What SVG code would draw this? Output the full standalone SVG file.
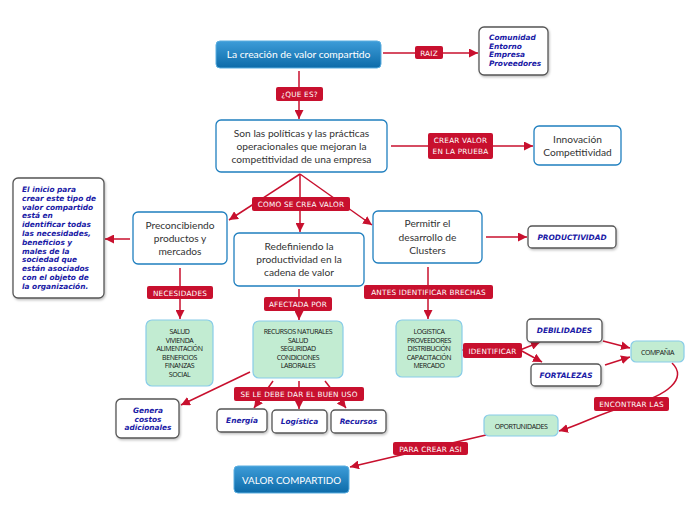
<svg xmlns="http://www.w3.org/2000/svg" width="696" height="520" viewBox="0 0 696 520">
<defs>
<linearGradient id="blueG" x1="0" y1="0" x2="0" y2="1">
<stop offset="0" stop-color="#3d9cd8"/>
<stop offset="1" stop-color="#0d6ba9"/>
</linearGradient>
<marker id="arr" markerWidth="9" markerHeight="9" refX="9" refY="4.5" orient="auto" markerUnits="userSpaceOnUse">
<path d="M0,0 L9,4.5 L0,9 z" fill="#c8102e"/>
</marker>
<filter id="sh" x="-10%" y="-10%" width="130%" height="140%">
<feDropShadow dx="1" dy="1.5" stdDeviation="1" flood-color="#000" flood-opacity="0.25"/>
</filter>
</defs>
<style>
.blue{fill:url(#blueG);stroke:#5aaee0;stroke-width:1}
.wt{fill:#fff;font-family:Lato,"Open Sans",sans-serif;font-size:10.3px;text-anchor:middle}
.box{fill:#fff;stroke:#1f7fbf;stroke-width:1.3}
.bt{fill:#333;font-family:Lato,"Open Sans",sans-serif;font-size:10.2px;text-anchor:middle}
.gbox{fill:#ffffff;stroke:#555;stroke-width:1.3}
.it{fill:#1a1aa6;font-family:"DejaVu Sans",sans-serif;font-size:7.4px;font-weight:bold;font-style:italic}
.grn{fill:#c2ecd2;stroke:#88cce8;stroke-width:1.2}
.gt{fill:#111;font-family:"Open Sans","Noto Sans",sans-serif;font-size:7px;text-anchor:middle;letter-spacing:-0.4px}
.lab{fill:#c8102e}
.lt{fill:#fff;font-family:"DejaVu Sans",sans-serif;font-size:7.3px;text-anchor:middle;letter-spacing:0.2px}
.con{fill:none;stroke:#c8102e;stroke-width:1.5}
</style>

<g id="connectors">
<path class="con" d="M383,53 L478,53" marker-end="url(#arr)"/>
<path class="con" d="M299,71 L299,119" marker-end="url(#arr)"/>
<path class="con" d="M391,146 L533,146" marker-end="url(#arr)"/>
<path class="con" d="M300,174 L229,220" marker-end="url(#arr)"/>
<path class="con" d="M300,174 L300,232" marker-end="url(#arr)"/>
<path class="con" d="M300,174 L372,225" marker-end="url(#arr)"/>
<path class="con" d="M130,239 L105,239" marker-end="url(#arr)"/>
<path class="con" d="M486,237 L527,237" marker-end="url(#arr)"/>
<path class="con" d="M180,268 L180,319" marker-end="url(#arr)"/>
<path class="con" d="M299,289 L299,320" marker-end="url(#arr)"/>
<path class="con" d="M428,267 L428,319" marker-end="url(#arr)"/>
<path class="con" d="M250,372 L181,405" marker-end="url(#arr)"/>
<path class="con" d="M273,381 L254,408" marker-end="url(#arr)"/>
<path class="con" d="M299,381 L299,409" marker-end="url(#arr)"/>
<path class="con" d="M325,381 L346,408" marker-end="url(#arr)"/>
<path class="con" d="M462,350 L520,350"/>
<path class="con" d="M520,350 L540,342" marker-end="url(#arr)"/>
<path class="con" d="M520,350 L542,362" marker-end="url(#arr)"/>
<path class="con" d="M603,341 L630,348" marker-end="url(#arr)"/>
<path class="con" d="M605,365 L630,357" marker-end="url(#arr)"/>
<path class="con" d="M672,363 C688,378 668,396 630,405 C600,413 580,425 559,431" marker-end="url(#arr)"/>
<path class="con" d="M486,435 L350,467" marker-end="url(#arr)"/>
</g>

<g id="labels">
<rect class="lab" x="415" y="46" width="28" height="13" rx="2"/>
<text class="lt" x="429" y="55.5">RAIZ</text>
<rect class="lab" x="276" y="87" width="47" height="14" rx="2"/>
<text class="lt" x="299.5" y="97">¿QUE ES?</text>
<rect class="lab" x="428" y="133" width="65" height="26" rx="2"/>
<text class="lt" x="460.5" y="143">CREAR VALOR</text>
<text class="lt" x="460.5" y="154">EN LA PRUEBA</text>
<rect class="lab" x="252" y="197" width="98" height="14" rx="2"/>
<text class="lt" x="301" y="207">COMO SE CREA VALOR</text>
<rect class="lab" x="147" y="286" width="66" height="13" rx="2"/>
<text class="lt" x="180" y="295.5">NECESIDADES</text>
<rect class="lab" x="264" y="297" width="68" height="14" rx="2"/>
<text class="lt" x="298" y="307">AFECTADA POR</text>
<rect class="lab" x="364" y="285" width="129" height="14" rx="2"/>
<text class="lt" x="428.5" y="295">ANTES IDENTIFICAR BRECHAS</text>
<rect class="lab" x="234" y="387" width="130" height="14" rx="2"/>
<text class="lt" x="299" y="397">SE LE DEBE DAR EL BUEN USO</text>
<rect class="lab" x="463" y="343" width="59" height="15" rx="2"/>
<text class="lt" x="492.5" y="353.5">IDENTIFICAR</text>
<rect class="lab" x="594" y="397" width="75" height="14" rx="2"/>
<text class="lt" x="631.5" y="407">ENCONTRAR LAS</text>
<rect class="lab" x="393" y="442" width="75" height="13" rx="2"/>
<text class="lt" x="430.5" y="451.5">PARA CREAR ASI</text>
</g>

<g id="n-main">
<rect class="blue" x="216" y="41" width="165" height="27" rx="4"/>
<text class="wt" x="298.5" y="58">La creación de valor compartido</text>
</g>

<g id="n-raiz">
<rect class="gbox" x="479" y="27" width="69" height="48" rx="5" filter="url(#sh)"/>
<text class="it" x="489" y="40">Comunidad</text>
<text class="it" x="489" y="48.5">Entorno</text>
<text class="it" x="489" y="57">Empresa</text>
<text class="it" x="489" y="65.5">Proveedores</text>
</g>

<g id="n-son">
<rect class="box" x="216" y="120" width="171" height="52" rx="5"/>
<text class="bt" x="301.5" y="137">Son las políticas y las prácticas</text>
<text class="bt" x="301.5" y="150">operacionales que mejoran la</text>
<text class="bt" x="301.5" y="163">competitividad de una empresa</text>
</g>

<g id="n-innov">
<rect class="box" x="534" y="126" width="87" height="39" rx="5"/>
<text class="bt" x="577.5" y="143">Innovación</text>
<text class="bt" x="577.5" y="156">Competitividad</text>
</g>

<g id="n-inicio">
<rect class="gbox" x="13" y="178" width="91" height="120" rx="5" filter="url(#sh)"/>
<text class="it" x="22" y="192">El inicio para</text>
<text class="it" x="22" y="200.8">crear este tipo de</text>
<text class="it" x="22" y="209.6">valor compartido</text>
<text class="it" x="22" y="218.4">está en</text>
<text class="it" x="22" y="227.2">identificar todas</text>
<text class="it" x="22" y="236">las necesidades,</text>
<text class="it" x="22" y="244.8">beneficios y</text>
<text class="it" x="22" y="253.6">males de la</text>
<text class="it" x="22" y="262.4">sociedad que</text>
<text class="it" x="22" y="271.2">están asociados</text>
<text class="it" x="22" y="280">con el objeto de</text>
<text class="it" x="22" y="288.8">la organización.</text>
</g>

<g id="n-precon">
<rect class="box" x="133" y="212" width="94" height="52" rx="5"/>
<text class="bt" x="180" y="229">Preconcibiendo</text>
<text class="bt" x="180" y="242">productos y</text>
<text class="bt" x="180" y="255">mercados</text>
</g>

<g id="n-redef">
<rect class="box" x="234" y="233" width="130" height="53" rx="5"/>
<text class="bt" x="299" y="250">Redefiniendo la</text>
<text class="bt" x="299" y="263">productividad en la</text>
<text class="bt" x="299" y="276">cadena de valor</text>
</g>

<g id="n-permitir">
<rect class="box" x="373" y="211" width="109" height="52" rx="5"/>
<text class="bt" x="427.5" y="227">Permitir el</text>
<text class="bt" x="427.5" y="241">desarrollo de</text>
<text class="bt" x="427.5" y="254">Clusters</text>
</g>

<g id="n-productividad">
<rect class="gbox" x="528" y="226" width="88" height="22" rx="4" filter="url(#sh)"/>
<text class="it" x="572" y="240" text-anchor="middle">PRODUCTIVIDAD</text>
</g>

<g id="n-salud">
<rect class="grn" x="146" y="320" width="67" height="66" rx="6"/>
<text class="gt" x="179.5" y="334">SALUD</text>
<text class="gt" x="179.5" y="342.6">VIVIENDA</text>
<text class="gt" x="179.5" y="351.2">ALIMENTACIÓN</text>
<text class="gt" x="179.5" y="359.8">BENEFICIOS</text>
<text class="gt" x="179.5" y="368.4">FINANZAS</text>
<text class="gt" x="179.5" y="377">SOCIAL</text>
</g>

<g id="n-recursos">
<rect class="grn" x="253" y="321" width="90" height="57" rx="6"/>
<text class="gt" x="298" y="334">RECURSOS NATURALES</text>
<text class="gt" x="298" y="342.6">SALUD</text>
<text class="gt" x="298" y="351.2">SEGURIDAD</text>
<text class="gt" x="298" y="359.8">CONDICIONES</text>
<text class="gt" x="298" y="368.4">LABORALES</text>
</g>

<g id="n-logistica">
<rect class="grn" x="396" y="320" width="66" height="57" rx="6"/>
<text class="gt" x="429" y="334">LOGISTICA</text>
<text class="gt" x="429" y="342.6">PROVEEDORES</text>
<text class="gt" x="429" y="351.2">DISTRIBUCIÓN</text>
<text class="gt" x="429" y="359.8">CAPACITACIÓN</text>
<text class="gt" x="429" y="368.4">MERCADO</text>
</g>

<g id="n-genera">
<rect class="gbox" x="116" y="399" width="63" height="39" rx="5" filter="url(#sh)"/>
<text class="it" x="148" y="413" text-anchor="middle">Genera</text>
<text class="it" x="148" y="421.5" text-anchor="middle">costos</text>
<text class="it" x="148" y="430" text-anchor="middle">adicionales</text>
</g>

<g id="n-energia">
<rect class="gbox" x="217" y="409" width="50" height="23" rx="4" filter="url(#sh)"/>
<text class="it" x="242" y="423" text-anchor="middle">Energía</text>
</g>

<g id="n-logistica2">
<rect class="gbox" x="272" y="410" width="55" height="23" rx="4" filter="url(#sh)"/>
<text class="it" x="299.5" y="424" text-anchor="middle">Logística</text>
</g>

<g id="n-recursos2">
<rect class="gbox" x="331" y="410" width="55" height="23" rx="4" filter="url(#sh)"/>
<text class="it" x="358.5" y="424" text-anchor="middle">Recursos</text>
</g>

<g id="n-debilidades">
<rect class="gbox" x="527" y="319" width="75" height="23" rx="4" filter="url(#sh)"/>
<text class="it" x="564.5" y="333" text-anchor="middle">DEBILIDADES</text>
</g>

<g id="n-fortalezas">
<rect class="gbox" x="531" y="364" width="70" height="22" rx="4" filter="url(#sh)"/>
<text class="it" x="566" y="378" text-anchor="middle">FORTALEZAS</text>
</g>

<g id="n-compania">
<rect class="grn" x="631" y="341" width="53" height="21" rx="5"/>
<text class="gt" x="657.5" y="354.5">COMPAÑIA</text>
</g>

<g id="n-oportunidades">
<rect class="grn" x="484" y="415" width="74" height="21" rx="5"/>
<text class="gt" x="521" y="428.5">OPORTUNIDADES</text>
</g>

<g id="n-valor">
<rect class="blue" x="234" y="466" width="115" height="27" rx="4"/>
<text class="wt" x="291.5" y="483.5" style="font-size:9.8px">VALOR COMPARTIDO</text>
</g>
</svg>
